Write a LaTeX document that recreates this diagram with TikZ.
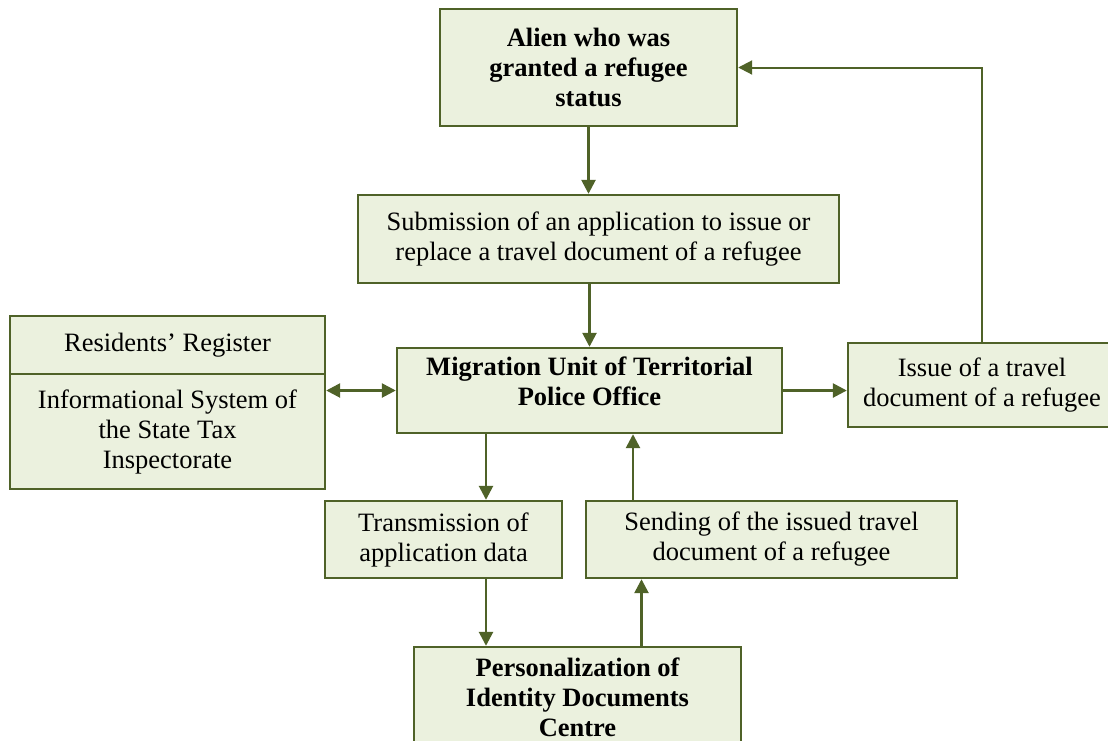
\documentclass[tikz,border=0pt]{standalone}
\usepackage{fontspec}
\setmainfont{Liberation Serif}
\usetikzlibrary{arrows.meta}
\definecolor{boxfill}{HTML}{EBF1DE}
\definecolor{olive}{HTML}{4F6228}
\begin{document}
\begin{tikzpicture}[x=1pt,y=-1pt,
  box/.style={draw=olive, line width=2.4pt, fill=boxfill, rectangle, inner sep=0pt,
    align=center, font=\fontsize{26.5}{30}\selectfont},
  bbox/.style={box, font=\fontsize{26.5}{30}\selectfont\bfseries},
  arr/.style={draw=olive, line width=2.6pt, -{Triangle[length=14pt,width=14pt]}},
  arrb/.style={draw=olive, line width=2.6pt, {Triangle[length=14pt,width=14pt]}-{Triangle[length=14pt,width=14pt]}},
]
\useasboundingbox (0,0) rectangle (1108,740);
\clip (0,0) rectangle (1108,740);

\node[bbox, minimum width=297pt, minimum height=117pt] (alien) at (588.5,67.5)
  {Alien who was\\granted a refugee\\status};
\node[box, minimum width=481pt, minimum height=88pt] (sub) at (598.5,239)
  {Submission of an application to issue or\\replace a travel document of a refugee};
\node[bbox, minimum width=385pt, minimum height=85pt, text depth=18pt] (mig) at (589.5,390.5)
  {Migration Unit of Territorial\\Police Office};
\node[box, minimum width=315pt, minimum height=58pt] (res) at (167.5,345)
  {Residents’ Register};
\node[box, minimum width=315pt, minimum height=115pt] (inf) at (167.5,431.5)
  {Informational System of\\the State Tax\\Inspectorate};
\node[box, minimum width=268pt, minimum height=84pt] (issue) at (982,385)
  {Issue of a travel\\document of a refugee};
\node[box, minimum width=237pt, minimum height=77pt] (trans) at (443.5,539.5)
  {Transmission of\\application data};
\node[box, minimum width=371pt, minimum height=77pt] (send) at (771.5,539.5)
  {Sending of the issued travel\\document of a refugee};
\node[bbox, minimum width=327pt, minimum height=100pt] (pers) at (577.5,697)
  {Personalization of\\Identity Documents\\Centre};

\coordinate (t1) at ([xshift=42.5pt]trans.north);
\coordinate (t2) at ([xshift=-138.5pt]send.north);
\coordinate (t4) at ([xshift=64pt]pers.north);

\draw[arr] (alien.south) -- (alien.south |- sub.north);
\draw[arr] (mig.north |- sub.south) -- (mig.north);
\draw[arrb] (mig.west -| inf.east) -- (mig.west);
\draw[arr] (mig.east) -- (mig.east -| issue.west);
\draw[draw=olive, line width=2pt, -{Triangle[length=14pt,width=14pt]}] (issue.north) |- (alien.east);
\draw[arr] (t1 |- mig.south) -- (t1);
\draw[arr] (t2) -- (t2 |- mig.south);
\draw[arr] (t1 |- trans.south) -- (t1 |- pers.north);
\draw[arr] (t4) -- (t4 |- send.south);
\end{tikzpicture}
\end{document}
